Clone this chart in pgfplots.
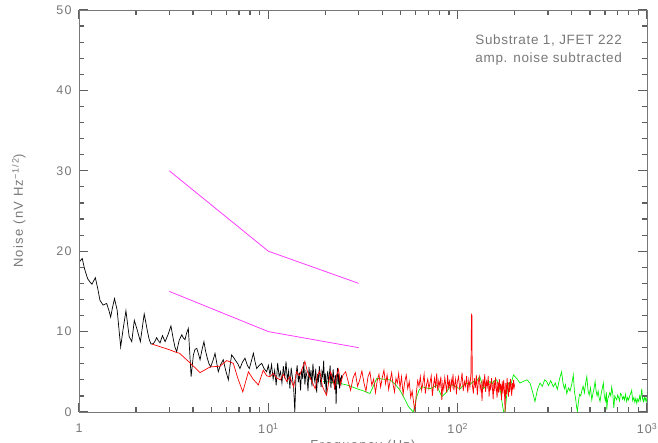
\documentclass[border=0pt]{standalone}
\usepackage{fontspec}
\setmainfont{Liberation Sans}
\newfontfamily\hf[LetterSpace=10]{Liberation Sans}
\newfontfamily\hfa[LetterSpace=5]{Liberation Sans}
\usepackage{pgfplots}
\pgfplotsset{compat=1.18}
\definecolor{axgray}{RGB}{120,120,120}
\definecolor{tickgray}{RGB}{95,95,95}
\definecolor{mygreen}{RGB}{0,240,0}
\definecolor{myred}{RGB}{255,0,0}
\definecolor{mymag}{RGB}{255,60,255}

\pgfplotstableread{
x y
1.00 18.6
1.04 19.1
1.07 17.8
1.11 16.6
1.14 16.2
1.17 15.9
1.22 16.7
1.26 15.2
1.29 13.9
1.34 13.3
1.40 13.5
1.44 12.6
1.47 11.8
1.50 12.9
1.54 14.1
1.59 12.7
1.66 8.1
1.71 10.3
1.77 12.6
1.80 11.2
1.84 9.4
1.90 8.75
1.96 11.4
2.03 10.2
2.11 8.75
2.16 10.5
2.21 12.2
2.26 11.0
2.30 10.0
2.35 9.0
2.40 8.46
2.47 8.5
2.52 8.8
2.57 9.25
2.62 8.9
2.68 8.6
2.76 9.5
2.85 8.75
2.95 9.6
3.06 10.7
3.14 9.2
3.21 8.1
3.28 7.5
3.38 8.9
3.49 9.6
3.56 9.2
3.63 9.0
3.70 9.8
3.78 10.4
3.91 4.4
4.02 7.1
4.10 7.8
4.19 7.9
4.28 7.2
4.36 6.5
4.45 7.6
4.57 8.75
4.66 7.6
4.76 6.7
4.86 6.0
4.96 5.6
5.10 6.4
5.23 7.3
5.34 6.1
5.44 5.0
5.60 5.9
5.78 6.5
5.95 5.2
6.15 4.0
6.28 5.8
6.40 7.1
6.55 6.8
6.67 6.5
6.90 6.0
7.08 5.4
7.30 6.2
7.53 6.7
7.75 5.8
7.94 5.4
8.15 6.4
8.34 7.3
8.50 6.3
8.68 5.4
8.95 5.8
9.23 6.05
9.50 5.4
9.80 5.0
10.0 5.8
10.2 4.6
10.4 5.9
10.6 4.1
10.8 5.2
11.0 3.3
11.2 6.1
11.4 4.4
11.6 5.0
11.8 3.6
12.0 5.7
12.2 4.2
12.4 6.3
12.6 3.9
12.8 5.1
13.0 2.9
13.2 5.5
13.4 4.3
13.6 3.1
13.8 0.0
14.0 4.6
14.2 5.8
14.4 3.7
14.6 4.9
14.8 2.7
15.0 5.3
15.2 4.1
15.4 6.2
15.6 3.4
15.8 5.0
16.0 4.4
16.2 2.6
16.4 5.6
16.6 4.0
16.8 5.2
17.0 3.2
17.2 6.0
17.4 4.5
17.6 3.8
17.8 5.4
18.0 2.4
18.2 4.7
18.4 3.9
18.6 5.7
18.8 4.2
19.0 3.1
19.2 5.0
19.4 4.4
19.6 6.4
19.8 3.5
20.0 4.8
20.2 2.2
20.4 4.3
20.6 5.1
20.8 3.6
21.0 4.6
21.2 5.8
21.4 3.0
21.6 4.5
21.8 3.9
22.0 5.3
22.2 4.1
22.4 2.8
22.6 4.6
22.8 1.0
23.0 4.2
23.2 5.5
23.4 3.4
23.6 4.8
23.8 2.9
24.0 4.3
24.2 3.6
24.4 4.6
}\blackdata

\pgfplotstableread{
x y
2.42 8.46
2.70 8.1
3.00 7.75
3.28 7.4
3.40 7.3
3.90 6.0
4.36 4.9
4.92 5.6
5.56 5.7
6.03 6.4
6.53 6.05
6.90 4.2
7.33 2.5
7.85 5.0
8.30 4.1
8.86 3.36
9.4 5.2
9.8 4.5
10.2 4.4
10.6 4.8
11.1 4.2
11.6 4.0
12.0 4.7
12.5 3.8
13.0 4.4
13.6 3.1
14.1 5.0
14.6 4.5
15.1 5.4
15.6 6.3
16.1 5.0
16.6 4.3
17.2 3.5
17.7 2.9
18.2 4.6
18.7 5.1
19.3 3.2
19.8 2.6
20.3 2.1
20.8 3.6
21.3 5.0
21.9 4.2
22.4 3.0
22.9 4.5
23.5 5.3
24.0 3.4
24.8 4.6
25.6 5.0
26.4 3.8
27.2 2.7
28.0 4.2
28.8 4.9
29.6 3.2
30.4 4.0
31.2 5.1
32.0 3.6
32.8 2.6
33.6 4.4
34.4 5.0
35.2 3.3
36.0 4.1
36.8 2.4
37.6 3.9
38.4 4.7
39.2 3.1
40.0 4.3
40.8 5.2
41.6 3.5
42.4 4.6
43.2 2.8
44.0 3.9
44.8 4.9
45.6 3.4
46.4 2.5
47.2 4.2
48.0 3.6
48.8 4.8
49.6 3.0
50.5 4.4
51.5 2.2
52.5 3.7
53.5 4.6
54.5 2.9
55.5 3.8
56.5 1.8
57.5 2.6
58.5 1.2
59.5 0.0
60.5 2.4
61.5 3.9
62.5 3.2
63.5 4.4
64.5 2.7
65.5 3.6
66.5 4.7
67.5 2.3
68.5 3.4
69.5 4.1
70.5 2.9
71.5 3.7
72.5 4.5
73.5 2.0
74.5 3.3
75.5 4.2
76.5 3.0
77.5 4.8
78.5 2.6
79.5 3.9
80.5 3.2
81.5 4.4
82.5 1.5
83.5 3.6
84.5 2.8
85.5 4.3
86.5 3.4
87.5 2.4
88.5 4.6
89.5 3.1
90.5 3.8
91.5 2.5
92.5 4.0
93.5 3.3
94.5 4.7
95.5 2.7
96.5 3.5
97.5 4.1
98.5 2.2
99.5 3.7
101 4.4
102.5 2.9
104 3.6
105.5 4.9
107 2.6
108.5 3.8
110 3.2
111.5 4.5
113 2.4
114.5 4.0
116 3.1
117.5 4.8
118.3 12.1
118.9 12.0
119.5 3.4
121 2.3
122.5 4.2
124 3.0
125.5 4.6
127 2.1
128.5 3.7
130 4.4
131.5 2.8
133 3.5
134.5 1.4
136 4.1
137.5 3.0
139 4.7
140.5 2.5
142 3.8
143.5 3.2
145 4.5
146.5 1.9
148 3.6
149.5 2.7
151 4.2
152.5 3.1
154 1.6
155.5 3.9
157 2.6
158.5 4.3
160 3.0
161.5 1.8
163 3.7
164.5 2.4
166 4.1
167.5 2.9
169 3.5
170.5 1.5
172 3.8
173.5 2.3
175 4.0
176.5 2.8
178 0.0
179.5 3.6
181 2.2
182.5 4.2
184 3.0
185.5 1.9
187 3.7
188.5 2.5
190 4.1
191.5 3.2
193 2.0
194.5 3.6
196 2.8
197.5 4.0
199 3.1
200 3.4
}\reddata

\pgfplotstableread{
x y
19.5 3.8
21.5 3.7
23.9 3.56
26.5 3.3
29.3 2.9
32.0 2.6
34.4 2.3
36.0 3.3
37.4 4.2
40.0 4.1
44.0 4.0
47.0 3.4
49.6 2.7
52.0 1.8
55.0 0.66
58.3 0.0
60.8 1.9
62.5 2.7
64.6 3.15
68.0 3.0
71.5 2.9
74.5 3.1
77.5 3.36
80.0 2.6
82.4 1.9
85.0 2.2
87.5 2.5
90.0 3.0
93.0 3.4
96.0 3.2
100 3.0
103 2.9
107 3.3
112 3.6
116 3.4
121 3.8
124 3.5
128 4.1
131 4.4
134 3.6
137 2.9
142 3.3
148 3.8
152 3.5
156 3.9
161 4.0
165 3.2
169 2.4
172 1.0
175 0.0
178 0.0
181 1.8
185 3.6
190 3.2
197 4.6
205 4.2
213 3.6
222 3.8
232 4.0
241 3.6
248 2.6
256 1.3
264 2.8
272 3.6
280 3.2
288 4.0
295 3.8
302 3.3
310 3.9
320 3.15
328 3.6
336 2.8
345 4.1
354 5.0
360 3.6
366 2.9
371 3.4
377 2.3
385 3.0
392 2.6
400 3.4
408 4.6
414 2.5
420 1.6
425 0.6
429 0.04
434 1.2
440 2.2
447 2.0
453 2.7
460 3.2
467 2.4
474 3.6
481 4.4
488 2.7
495 2.1
503 3.0
511 1.5
518 2.3
525 2.9
532 3.8
538 2.7
545 2.0
552 2.6
558 1.8
565 1.3
572 2.2
580 2.9
588 3.6
595 2.0
603 1.4
610 2.5
613 0.3
620 1.6
628 2.0
636 2.4
644 2.0
651 3.1
660 2.2
668 0.5
676 2.0
684 1.7
692 1.5
700 2.1
708 1.8
716 1.4
724 2.3
735 2.1
743 1.6
752 1.9
760 1.5
770 2.2
781 1.3
790 1.8
800 1.5
810 2.0
820 2.3
830 2.7
840 1.4
852 1.8
863 1.2
873 1.7
883 1.1
893 1.6
905 1.3
915 2.0
925 1.5
938 2.9
948 1.6
958 1.3
968 1.9
978 1.4
988 1.8
997 1.3
1000 1.4
}\greendata

\begin{document}
\begin{tikzpicture}
\begin{axis}[
  scale only axis, width=568pt, height=402pt,
  at={(0,0)}, anchor=south west,
  axis on top,
  xmode=log, xmin=1, xmax=1000, ymin=0, ymax=50,
  xtick={1,10,100,1000},
  xticklabels={1,10\textsuperscript{1},10\textsuperscript{2},10\textsuperscript{3}},
  ytick={0,10,20,30,40,50}, minor y tick num=4,
  tick align=inside,
  axis line style={draw=axgray, line width=0.8pt},
  tick style={draw=tickgray, line width=1.2pt},
  major tick length=9pt, minor tick length=5pt,
  /pgf/number format/assume math mode=true,
  tick label style={axgray, font=\hf\fontsize{12.5}{14}\selectfont},
  xticklabel style={yshift=-8pt},
  yticklabel style={xshift=-4pt},
  xlabel={Frequency (Hz)},
  ylabel={Noise (nV Hz\textsuperscript{−1/2})},
  label style={axgray, font=\hf\fontsize{13}{15}\selectfont},
  xlabel style={at={(axis description cs:0.5,-0.062)}, anchor=north},
  ylabel style={at={(axis description cs:-0.106,0.5)}, anchor=center},
]
\addplot[mygreen, line width=0.7pt] table {\greendata};
\addplot[black, line width=0.7pt] table {\blackdata};
\addplot[myred, line width=0.7pt] table {\reddata};
\addplot[mymag, line width=0.8pt] coordinates {(3,30) (10,20) (30,16)};
\addplot[mymag, line width=0.8pt] coordinates {(3,15) (10,10) (30,8)};
\node[anchor=east, axgray, font=\hfa\fontsize{13.5}{15}\selectfont] at (rel axis cs:0.962,0.925) {Substrate 1, JFET 222};
\node[anchor=east, axgray, font=\hfa\fontsize{13.5}{15}\selectfont] at (rel axis cs:0.962,0.877) {amp. noise subtracted};
\end{axis}
\pgfresetboundingbox
\path[use as bounding box] (-79pt,-31pt) rectangle (579pt,412pt);
\end{tikzpicture}
\end{document}
